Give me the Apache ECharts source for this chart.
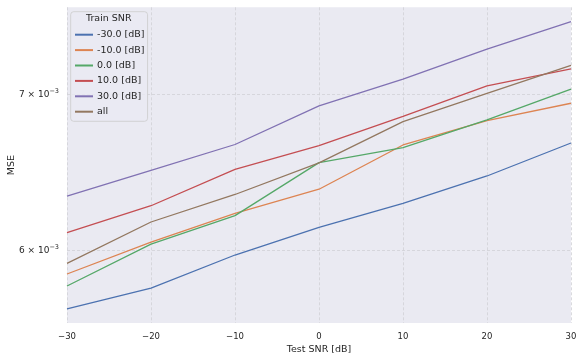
<!DOCTYPE html>
<html>
<head>
<meta charset="utf-8">
<style>
  html, body { margin: 0; padding: 0; background: #fff; }
  #chart { width: 585px; height: 363px; }
</style>
<script src="https://cdn.jsdelivr.net/npm/echarts@6/dist/echarts.min.js"></script>
</head>
<body>
<div id="chart"></div>
<script>
// test SNR on the x axis
const testSnr = [-30, -20, -10, 0, 10, 20, 30];
// MSE per training SNR
const mseM30 = [5.662e-3, 5.780e-3, 5.972e-3, 6.138e-3, 6.285e-3, 6.457e-3, 6.671e-3];
const mseM10 = [5.861e-3, 6.049e-3, 6.223e-3, 6.373e-3, 6.658e-3, 6.820e-3, 6.938e-3];
const mse0 = [5.792e-3, 6.037e-3, 6.209e-3, 6.543e-3, 6.640e-3, 6.825e-3, 7.035e-3];
const mse10 = [6.105e-3, 6.270e-3, 6.499e-3, 6.653e-3, 6.848e-3, 7.058e-3, 7.177e-3];
const mse30 = [6.329e-3, 6.493e-3, 6.661e-3, 6.920e-3, 7.105e-3, 7.319e-3, 7.521e-3];
const mseAll = [5.923e-3, 6.170e-3, 6.340e-3, 6.541e-3, 6.813e-3, 7.006e-3, 7.203e-3];
const seriesNames = ["-30.0 [dB]", "-10.0 [dB]", "0.0 [dB]", "10.0 [dB]", "30.0 [dB]", "all"];
const seriesData = [mseM30, mseM10, mse0, mse10, mse30, mseAll];
const colors = ["#4C72B0", "#DD8452", "#55A868", "#C44E52", "#8172B3", "#937860"];
const yTicks = [6e-3, 7e-3];

const gridColor = "#d0d0d6";
const textColor = "#262626";

let chart = echarts.init(document.getElementById("chart"));
let option = {
  animation: false,
  textStyle: { fontFamily: "DejaVu Sans" },
  grid: {
    left: 67,
    right: 14,
    top: 7.3,
    bottom: 40,
    outerBoundsMode: "none",
    containLabel: false,
    show: true,
    backgroundColor: "#EAEAF2",
    borderWidth: 0,
  },
  graphic: [
    {
      type: "text",
      left: 86,
      top: 13.5,
      z: 100,
      style: {
        text: "Train SNR",
        fontSize: 9.5,
        fill: textColor,
        fontFamily: "DejaVu Sans",
      },
    },
  ],
  legend: {
    orient: "vertical",
    left: 70.7,
    top: 11.7,
    padding: [18, 3, 4.6, 3.3],
    itemWidth: 18,
    itemHeight: 8,
    itemGap: 5.4,
    backgroundColor: "rgba(234,234,242,0.8)",
    borderColor: "#cccccc",
    borderWidth: 0.8,
    borderRadius: 3,
    itemStyle: { opacity: 0 },
    textStyle: { fontSize: 9.5, color: textColor, padding: [0, 0, 0, -1] },
    data: seriesNames,
  },
  xAxis: {
    type: "value",
    min: -30,
    max: 30,
    interval: 10,
    name: "Test SNR [dB]",
    nameLocation: "middle",
    nameGap: 22,
    nameMoveOverlap: false,
    nameTextStyle: { fontSize: 9.5, color: textColor },
    axisLine: { show: false },
    axisTick: { show: false },
    axisLabel: {
      fontSize: 8.5,
      color: textColor,
      margin: 9,
      formatter: (v) => String(v).replace("-", "\u2212"),
    },
    splitLine: {
      show: true,
      lineStyle: { color: gridColor, type: [3, 2], width: 0.8 },
    },
  },
  yAxis: {
    type: "log",
    logBase: 10,
    min: 5.584e-3,
    max: 7.628e-3,
    name: "MSE",
    nameLocation: "middle",
    nameGap: 50,
    nameMoveOverlap: false,
    nameTextStyle: { fontSize: 9.5, color: textColor },
    axisLine: { show: false },
    axisTick: { show: false, customValues: yTicks },
    axisLabel: {
      customValues: yTicks,
      fontSize: 9,
      color: textColor,
      margin: 8,
      formatter: (v) => {
        const e = Math.floor(Math.log10(v) + 1e-9);
        const m = Math.round(v / Math.pow(10, e));
        return "{m|" + m + " \u00d7 10}{e|\u2212" + -e + "}";
      },
      rich: {
        m: { fontSize: 9, color: textColor },
        e: { fontSize: 6.5, color: textColor, padding: [0, 0, 6, 0] },
      },
    },
    splitLine: {
      show: true,
      lineStyle: { color: gridColor, type: [3, 2], width: 0.8 },
    },
    minorTick: { show: false },
  },
  series: seriesNames.map((name, i) => ({
    name: name,
    type: "line",
    data: testSnr.map((x, j) => [x, seriesData[i][j]]),
    symbol: "none",
    lineStyle: { width: 1.3, color: colors[i] },
    itemStyle: { color: colors[i] },
  })),
};
chart.setOption(option);
</script>
</body>
</html>
